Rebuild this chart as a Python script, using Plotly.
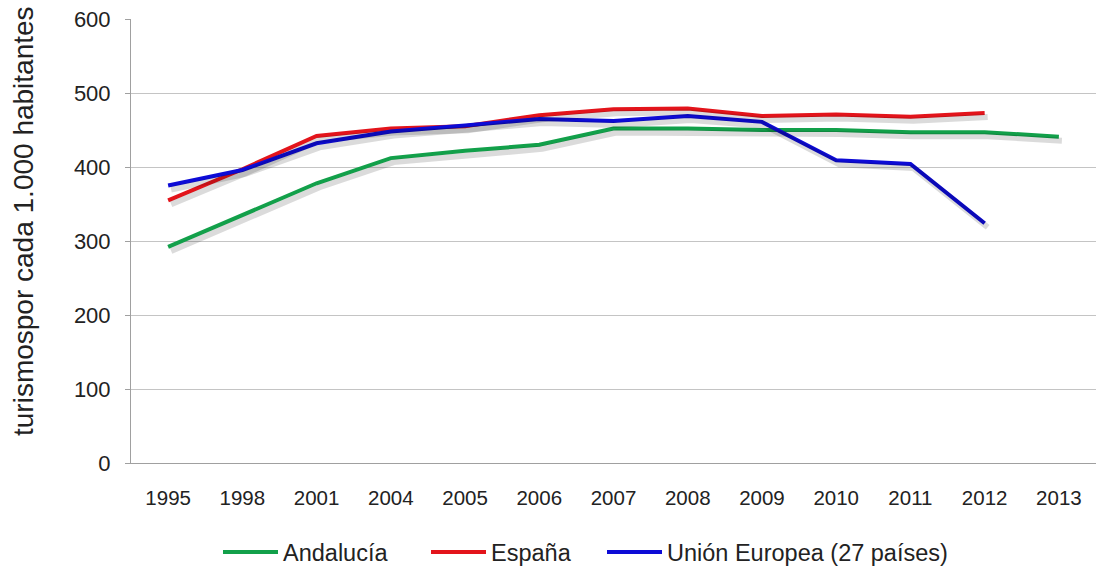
import plotly.graph_objects as go

years = ["1995", "1998", "2001", "2004", "2005", "2006", "2007", "2008", "2009", "2010", "2011", "2012", "2013"]
andalucia = [292, 335, 378, 412, 422, 430, 452, 452, 450, 450, 447, 447, 441]
espana = [355, 397, 442, 452, 455, 470, 478, 479, 469, 471, 468, 473, None]
ue27 = [375, 396, 432, 448, 456, 465, 462, 469, 461, 409, 404, 324, None]

series = [
    ("Andalucía", andalucia, "#12a04a", "legend"),
    ("España", espana, "#e3141b", "legend2"),
    ("Unión Europea (27 países)", ue27, "#0d0bd6", "legend3"),
]

fig = go.Figure()
# soft drop shadows drawn on an overlay axis pair shifted a few pixels
for name, vals, col, lg in series:
    fig.add_trace(go.Scatter(x=years, y=vals, mode="lines", xaxis="x2", yaxis="y2",
                             line=dict(color="rgba(0,0,0,0.14)", width=6),
                             showlegend=False, hoverinfo="skip"))
for name, vals, col, lg in series:
    fig.add_trace(go.Scatter(x=years, y=vals, mode="lines", name=name, legend=lg,
                             line=dict(color=col, width=4)))

dx = 3 / 74.0
dy = 4 / 0.74


def leg(xpx):
    return dict(orientation="h", x=xpx / 1096, xref="container", xanchor="left",
                y=0.033, yref="container", yanchor="middle",
                font=dict(size=23.5), itemwidth=55, bgcolor="rgba(0,0,0,0)")


fig.update_layout(
    width=1096, height=571,
    margin=dict(l=131, r=0, t=19, b=108, autoexpand=False),
    paper_bgcolor="white", plot_bgcolor="white",
    font=dict(family="Liberation Sans, Arial, sans-serif", color="#222222"),
    xaxis=dict(type="category", categoryorder="array", categoryarray=years,
               range=[-0.5, 12.5], showgrid=False, showline=True, automargin=False,
               linecolor="#a0a0a0", linewidth=1, ticks="", tickfont=dict(size=20.5),
               ticklabelstandoff=16, zeroline=False),
    yaxis=dict(range=[0, 600], dtick=100, showgrid=True, gridcolor="#c4c4c4",
               gridwidth=1, showline=True, linecolor="#a0a0a0", linewidth=1,
               ticks="outside", ticklen=5, tickcolor="#a0a0a0", automargin=False,
               tickfont=dict(size=22), zeroline=False, ticklabelstandoff=10),
    xaxis2=dict(type="category", categoryorder="array", categoryarray=years,
                overlaying="x", range=[-0.5 - dx, 12.5 - dx], visible=False),
    yaxis2=dict(overlaying="y", range=[0 + dy, 600 + dy], visible=False),
    legend=leg(218),
    legend2=leg(426),
    legend3=leg(602),
    annotations=[dict(text="turismospor cada 1.000 habitantes", textangle=-90,
                      xref="paper", yref="paper", x=(23 - 131) / 965, y=(463 - 221) / 444,
                      xanchor="center", yanchor="middle", showarrow=False,
                      font=dict(size=28, color="#222222"))],
)

fig.write_html("out.html", config={"displayModeBar": False},
               post_script="document.body.style.margin='0';document.body.style.padding='0';")
